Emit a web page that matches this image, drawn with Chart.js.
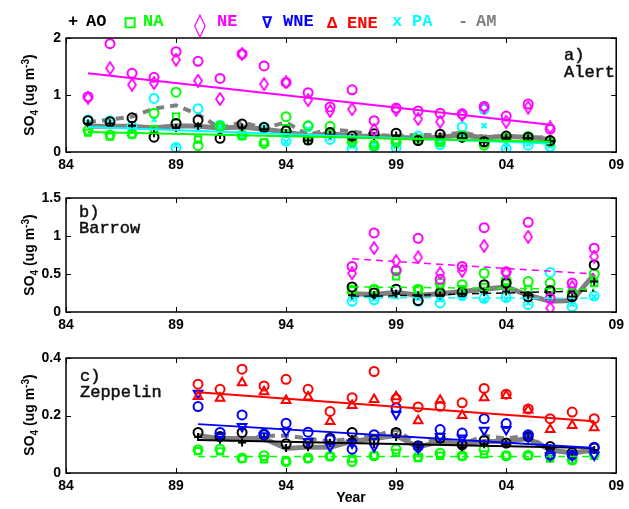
<!DOCTYPE html>
<html>
<head>
<meta charset="utf-8">
<script src="https://cdn.jsdelivr.net/npm/chart.js@4.4.1/dist/chart.umd.min.js"></script>
<style>
  body { margin: 0; background: #fff; width: 629px; height: 509px; overflow: hidden; position: relative; font-family: "Liberation Sans", Arial, sans-serif; }
  canvas { position: absolute; left: 0; }
  .lg { position: absolute; top: 12px; height: 20px; line-height: 20px; font: bold 17px "Liberation Mono", "DejaVu Sans Mono", monospace; white-space: pre; }
  .site { position: absolute; font: 17px "Liberation Mono", monospace; line-height: 17px; color: #111; -webkit-text-stroke: 0.5px #111; white-space: pre; }
  .ytitle { position: absolute; left: 30px; font: bold 14px "Liberation Sans", Arial, sans-serif; white-space: nowrap; transform: translate(-50%, -50%) rotate(-90deg); }
  .ytitle sub, .ytitle sup { font-size: 10px; }
  .xtitle { position: absolute; left: 351px; top: 497px; transform: translate(-50%, -50%); font: bold 14px "Liberation Sans", Arial, sans-serif; }
</style>
</head>
<body>
<canvas id="panelA" width="629" height="175" style="top:0px"></canvas>
<canvas id="panelB" width="629" height="160" style="top:175px"></canvas>
<canvas id="panelC" width="629" height="174" style="top:335px"></canvas>

<span class="lg" style="left:68px;color:#000">+</span><span class="lg" style="left:86px;color:#000">AO</span>
<span class="lg" style="left:124px;top:14px;color:#00ff00;font:bold 13px 'DejaVu Sans';-webkit-text-stroke:1.2px #00ff00">□</span><span class="lg" style="left:143px;color:#00ff00">NA</span>
<span class="lg" style="left:194px;top:11px;color:#ff00ff;font:24px 'DejaVu Sans'">◊</span><span class="lg" style="left:217px;color:#ff00ff">NE</span>
<span class="lg" style="left:262px;color:#0000ff">∇</span><span class="lg" style="left:283px;color:#0000ff">WNE</span>
<span class="lg" style="left:327px;top:14px;color:#ff0000">Δ</span><span class="lg" style="left:347px;top:14px;color:#ff0000">ENE</span>
<span class="lg" style="left:392px;color:#00ffff">x</span><span class="lg" style="left:412px;color:#00ffff">PA</span>
<span class="lg" style="left:458px;color:#808080">-</span><span class="lg" style="left:476px;color:#808080">AM</span>

<div class="site" style="left:564px;top:47px">a)
Alert</div>
<div class="site" style="left:79px;top:205px;line-height:16px">b)
Barrow</div>
<div class="site" style="left:80px;top:369px;line-height:16px">c)
Zeppelin</div>

<div class="ytitle" style="top:95px">SO<sub>4</sub> (ug m<sup>-3</sup>)</div>
<div class="ytitle" style="top:255px">SO<sub>4</sub> (ug m<sup>-3</sup>)</div>
<div class="ytitle" style="top:415px">SO<sub>4</sub> (ug m<sup>-3</sup>)</div>
<div class="xtitle">Year</div>

<script>
// ---- a) Alert, 1985-2006 ----
const yearsA = [1985,1986,1987,1988,1989,1990,1991,1992,1993,1994,1995,1996,1997,1998,1999,2000,2001,2002,2003,2004,2005,2006];
const alertNEcirc = [0.97,1.90,1.38,1.31,1.76,1.59,1.29,1.72,1.51,1.22,1.04,0.79,1.09,0.55,0.77,0.72,0.68,0.67,0.80,0.63,0.84,0.40];
const alertNE = [0.95,1.47,1.18,1.21,1.62,1.25,0.93,1.72,1.19,1.22,0.91,0.72,0.75,0.39,0.74,0.58,0.53,0.65,0.78,0.53,0.78,0.43];
const alertAOcirc = [0.55,0.53,0.60,0.26,0.50,0.56,0.24,0.49,0.43,0.37,0.21,0.34,0.28,0.32,0.33,0.20,0.31,0.26,0.18,0.28,0.26,0.20];
const alertAO = [0.50,0.50,0.46,0.33,0.42,0.45,0.30,0.43,0.40,0.33,0.20,0.30,0.25,0.28,0.29,0.22,0.27,0.24,0.17,0.25,0.24,0.19];
const alertNAcirc = [0.38,0.30,0.32,0.68,1.05,0.11,0.45,0.30,0.15,0.62,0.46,0.45,0.18,0.11,0.17,0.21,0.18,0.26,0.12,0.24,0.27,0.19];
const alertNA = [0.34,0.27,0.31,0.40,0.62,0.22,0.44,0.28,0.17,0.42,0.20,0.35,0.22,0.13,0.20,0.24,0.20,0.30,0.15,0.26,0.27,0.17];
const alertPAcirc = [0.56,0.55,0.45,0.94,0.08,0.76,0.47,0.30,0.44,0.19,0.45,0.22,0.05,0.09,0.08,0.28,0.13,0.44,0.75,0.06,0.12,0.09];
const alertPA = [0.52,0.52,0.43,0.57,0.12,0.40,0.44,0.26,0.42,0.18,0.40,0.24,0.10,0.13,0.10,0.22,0.15,0.30,0.46,0.08,0.14,0.10];
const alertAM = [0.52,0.57,0.62,0.76,0.82,0.66,0.42,0.52,0.42,0.52,0.30,0.40,0.36,0.30,0.28,0.30,0.30,0.34,0.27,0.28,0.25,0.26];
const alertAll = [0.45,0.45,0.45,0.42,0.46,0.45,0.42,0.44,0.40,0.35,0.28,0.32,0.28,0.27,0.26,0.24,0.26,0.30,0.25,0.27,0.26,0.22];
const trendYearsA = [1985, 2006];
const alertTrendNE = [1.38, 0.48];
const alertTrendNA = [0.35, 0.18];
const alertTrendPA = [0.44, 0.15];

// ---- b) Barrow, 1997-2008 ----
const yearsB = [1997,1998,1999,2000,2001,2002,2003,2004,2005,2006,2007,2008];
const barrowNEcirc = [0.60,1.04,0.55,0.97,0.43,0.60,1.11,0.53,1.18,0.18,0.38,0.84];
const barrowNE = [0.51,0.84,0.67,0.72,0.51,0.54,0.87,0.51,0.99,0.05,0.33,0.73];
const barrowAOcirc = [0.33,0.25,0.30,0.15,0.25,0.26,0.36,0.38,0.20,0.28,0.20,0.62];
const barrowAO = [0.22,0.22,0.24,0.22,0.22,0.24,0.26,0.27,0.22,0.22,0.20,0.40];
const barrowNAcirc = [0.27,0.30,0.54,0.30,0.38,0.36,0.51,0.42,0.40,0.38,0.25,0.50];
const barrowNA = [0.30,0.30,0.47,0.30,0.32,0.30,0.33,0.38,0.30,0.30,0.24,0.38];
const barrowPAcirc = [0.14,0.16,0.30,0.14,0.12,0.22,0.18,0.19,0.10,0.52,0.07,0.21];
const barrowPA = [0.17,0.17,0.20,0.18,0.16,0.18,0.15,0.17,0.12,0.20,0.10,0.20];
const barrowAll = [0.24,0.23,0.26,0.22,0.24,0.27,0.30,0.33,0.22,0.14,0.15,0.50];
const trendYearsB = [1997, 2008];
const barrowTrendNE = [0.70, 0.50];
const barrowTrendNA = [0.33, 0.30];
const barrowTrendPA = [0.19, 0.18];
const barrowTrendAO = [0.20, 0.28];

// ---- c) Zeppelin, 1990-2008 ----
const yearsC = [1990,1991,1992,1993,1994,1995,1996,1997,1998,1999,2000,2001,2002,2003,2004,2005,2006,2007,2008];
const zepENEcirc = [0.309,0.291,0.361,0.303,0.326,0.291,0.214,0.262,0.353,0.258,0.230,0.232,0.244,0.294,0.274,0.223,0.189,0.212,0.189];
const zepENE = [0.266,0.260,0.314,0.283,0.252,0.264,0.179,0.235,0.256,0.265,0.182,0.253,0.200,0.262,0.270,0.219,0.151,0.165,0.157];
const zepWNEcirc = [0.231,0.141,0.202,0.136,0.173,0.142,0.116,0.083,0.133,0.227,0.092,0.151,0.139,0.189,0.172,0.133,0.063,0.063,0.090];
const zepWNE = [0.277,0.127,0.162,0.130,0.145,0.110,0.092,0.104,0.092,0.204,0.087,0.127,0.122,0.149,0.151,0.127,0.060,0.060,0.063];
const zepAOcirc = [0.141,0.127,0.141,0.133,0.102,0.102,0.121,0.141,0.116,0.141,0.095,0.122,0.098,0.113,0.104,0.127,0.092,0.071,0.087];
const zepAO = [0.125,0.116,0.106,0.125,0.087,0.090,0.105,0.118,0.100,0.125,0.090,0.108,0.090,0.100,0.100,0.120,0.085,0.068,0.080];
const zepNAcirc = [0.081,0.083,0.052,0.060,0.040,0.052,0.058,0.040,0.060,0.083,0.057,0.069,0.060,0.081,0.060,0.062,0.060,0.045,0.065];
const zepNA = [0.076,0.075,0.050,0.048,0.040,0.050,0.058,0.050,0.060,0.070,0.052,0.060,0.058,0.065,0.060,0.060,0.050,0.045,0.060];
const zepAll = [0.13,0.12,0.12,0.12,0.085,0.09,0.09,0.11,0.12,0.13,0.09,0.11,0.10,0.11,0.11,0.12,0.08,0.07,0.08];
const zepAM = [0.13,0.12,0.11,0.13,0.13,0.12,0.11,0.12,0.13,0.15,0.10,0.12,0.10,0.13,0.12,0.13,0.08,0.07,0.08];
const trendYearsC = [1990, 2008];
const zepTrendENE = [0.281, 0.180];
const zepTrendWNE = [0.170, 0.087];
const zepTrendAO = [0.115, 0.087];
const zepTrendNA = [0.057, 0.057];

const BLACK = '#000000', GREEN = '#00ff00', MAGENTA = '#ff00ff', BLUE = '#0000ff', RED = '#ff0000', CYAN = '#00ffff', GRAY = '#808080';

function pts(xs, ys) {
  return xs.map((x, i) => ({ x: x, y: ys[i] }));
}

// tall open diamond, like the matlab one
function diamond(color) {
  const c = document.createElement('canvas');
  c.width = 10; c.height = 14;
  const g = c.getContext('2d');
  g.strokeStyle = color;
  g.lineWidth = 1.8;
  g.beginPath();
  g.moveTo(5, 1); g.lineTo(9, 7); g.lineTo(5, 13); g.lineTo(1, 7);
  g.closePath();
  g.stroke();
  return c;
}

function marks(xs, ys, color, style, radius, rotation) {
  return {
    data: pts(xs, ys),
    showLine: false,
    pointStyle: style,
    pointRadius: radius || 4.5,
    pointRotation: rotation || 0,
    pointBorderColor: color,
    pointBackgroundColor: 'rgba(0,0,0,0)',
    pointBorderWidth: 2,
    order: 1,
  };
}

function line(xs, ys, color, width, dash, order) {
  return {
    data: pts(xs, ys),
    showLine: true,
    borderColor: color,
    borderWidth: width,
    borderDash: dash || [],
    pointRadius: 0,
    fill: false,
    order: order,
  };
}

// frame with inward ticks on all four sides
const framePlugin = {
  id: 'frame',
  afterDraw(chart) {
    const ctx = chart.ctx;
    const a = chart.chartArea;
    const xs = chart.scales.x, ys = chart.scales.y;
    ctx.save();
    ctx.strokeStyle = '#000';
    ctx.lineWidth = 1.5;
    ctx.strokeRect(a.left, a.top, a.right - a.left, a.bottom - a.top);
    ctx.lineWidth = 1;
    xs.ticks.forEach(t => {
      const px = Math.round(xs.getPixelForValue(t.value)) + 0.5;
      ctx.beginPath();
      ctx.moveTo(px, a.bottom); ctx.lineTo(px, a.bottom - 5);
      ctx.moveTo(px, a.top); ctx.lineTo(px, a.top + 5);
      ctx.stroke();
    });
    ys.ticks.forEach(t => {
      const py = Math.round(ys.getPixelForValue(t.value)) + 0.5;
      ctx.beginPath();
      ctx.moveTo(a.left, py); ctx.lineTo(a.left + 5, py);
      ctx.moveTo(a.right, py); ctx.lineTo(a.right - 5, py);
      ctx.stroke();
    });
    ctx.restore();
  },
};

function makePanel(id, datasets, yMax, yStep, padTop, xHeight) {
  const tickFont = { family: 'Liberation Sans', weight: 'bold', size: 14 };
  return new Chart(document.getElementById(id).getContext('2d'), {
    type: 'scatter',
    data: { datasets: datasets },
    options: {
      responsive: false,
      animation: false,
      layout: { padding: { top: padTop, right: 10, left: 0, bottom: 0 } },
      plugins: { legend: { display: false }, tooltip: { enabled: false } },
      scales: {
        x: {
          type: 'linear',
          min: 1984,
          max: 2009,
          grid: { display: false, drawTicks: false },
          border: { display: false },
          ticks: {
            stepSize: 5,
            maxRotation: 0,
            autoSkip: false,
            padding: 5,
            color: '#000',
            font: tickFont,
            callback: v => String(v % 100).padStart(2, '0'),
          },
          afterFit: s => { s.height = xHeight; },
        },
        y: {
          min: 0,
          max: yMax,
          grid: { display: false, drawTicks: false },
          border: { display: false },
          ticks: {
            stepSize: yStep,
            padding: 5,
            color: '#000',
            font: tickFont,
            callback: v => String(+v.toFixed(2)),
          },
          afterFit: s => { s.width = 66; },
        },
      },
    },
    plugins: [framePlugin],
  });
}

makePanel('panelA', [
  line(trendYearsA, alertTrendNE, MAGENTA, 2, [], 0),
  line(trendYearsA, alertTrendNA, GREEN, 2, [], 0),
  line(trendYearsA, alertTrendPA, CYAN, 2, [], 0),
  marks(yearsA, alertNEcirc, MAGENTA, 'circle'),
  marks(yearsA, alertNE, MAGENTA, diamond(MAGENTA)),
  marks(yearsA, alertAOcirc, BLACK, 'circle'),
  marks(yearsA, alertAO, BLACK, 'cross', 4),
  marks(yearsA, alertNAcirc, GREEN, 'circle'),
  marks(yearsA, alertNA, GREEN, 'rect', 4.5),
  marks(yearsA, alertPAcirc, CYAN, 'circle'),
  marks(yearsA, alertPA, CYAN, 'crossRot', 3.5),
  line(yearsA, alertAll, GRAY, 5, [], 2),
  line(yearsA, alertAM, GRAY, 4, [8, 6], 2),
], 2, 1, 38, 23);

makePanel('panelB', [
  line(trendYearsB, barrowTrendNE, MAGENTA, 1.5, [7, 5], 0),
  line(trendYearsB, barrowTrendNA, GREEN, 1.5, [7, 5], 0),
  line(trendYearsB, barrowTrendPA, CYAN, 1.5, [7, 5], 0),
  line(trendYearsB, barrowTrendAO, BLACK, 1.5, [7, 5], 0),
  marks(yearsB, barrowNEcirc, MAGENTA, 'circle'),
  marks(yearsB, barrowNE, MAGENTA, diamond(MAGENTA)),
  marks(yearsB, barrowAOcirc, BLACK, 'circle'),
  marks(yearsB, barrowAO, BLACK, 'cross', 4),
  marks(yearsB, barrowNAcirc, GREEN, 'circle'),
  marks(yearsB, barrowNA, GREEN, 'rect', 4.5),
  marks(yearsB, barrowPAcirc, CYAN, 'circle'),
  marks(yearsB, barrowPA, CYAN, 'crossRot', 3.5),
  line(yearsB, barrowAll, GRAY, 5, [], 2),
], 1.5, 0.5, 23, 23);

makePanel('panelC', [
  line(trendYearsC, zepTrendENE, RED, 2, [], 0),
  line(trendYearsC, zepTrendWNE, BLUE, 2, [], 0),
  line(trendYearsC, zepTrendAO, BLACK, 2, [], 0),
  line(trendYearsC, zepTrendNA, GREEN, 1.5, [7, 5], 0),
  marks(yearsC, zepENEcirc, RED, 'circle'),
  marks(yearsC, zepENE, RED, 'triangle', 5),
  marks(yearsC, zepWNEcirc, BLUE, 'circle'),
  marks(yearsC, zepWNE, BLUE, 'triangle', 5, 180),
  marks(yearsC, zepAOcirc, BLACK, 'circle'),
  marks(yearsC, zepAO, BLACK, 'cross', 4),
  marks(yearsC, zepNAcirc, GREEN, 'circle'),
  marks(yearsC, zepNA, GREEN, 'rect', 4.5),
  line(yearsC, zepAll, GRAY, 5, [], 2),
  line(yearsC, zepAM, GRAY, 4, [8, 6], 2),
], 0.4, 0.2, 23, 36);
</script>
</body>
</html>
